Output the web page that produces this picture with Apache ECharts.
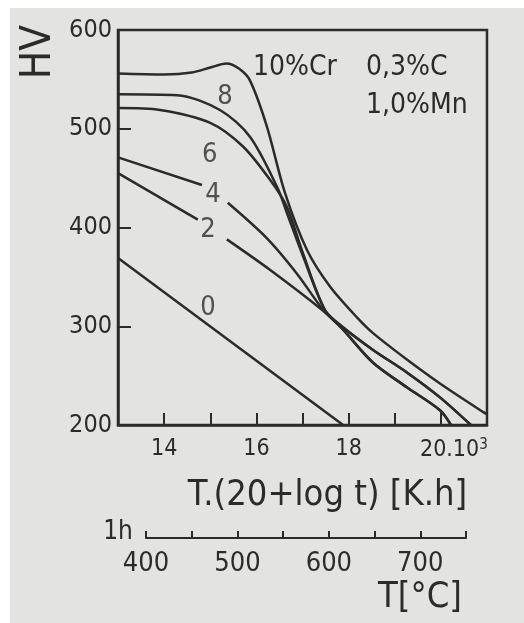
<!DOCTYPE html>
<html>
<head>
<meta charset="utf-8">
<script src="https://cdn.jsdelivr.net/npm/echarts@6/dist/echarts.min.js"></script>
<style>
  html, body { margin: 0; padding: 0; background: #fff; }
  #main { width: 524px; height: 623px; }
</style>
</head>
<body>
<div id="main"></div>
<script>
// hardness HV vs tempering parameter T.(20+log t), curves for 0..10 % Cr
var cr0 = [[13, 369], [17.88, 200]];
var cr2 = [[13, 455], [14.73, 408], [15.05, null], [15.36, 388], [16.3, 357], [17.44, 316], [17.85, 298],
           [18.53, 263], [19.27, 238], [19.98, 215], [20.22, 200]];
var cr4 = [[13, 471], [14.82, 443], [15.1, null], [15.38, 425], [16.23, 389], [16.9, 352], [17.44, 317], [17.85, 298],
           [18.53, 263], [19.27, 238], [19.98, 215], [20.22, 200]];
var cr6 = [[13, 521], [13.91, 519], [15.0, 506], [15.71, 482], [16.3, 448], [16.66, 421], [17.01, 374], [17.49, 316],
           [17.85, 300], [18.53, 276], [19.27, 253], [19.98, 228], [20.65, 200]];
var cr8 = [[13, 535], [14.28, 534], [15.21, 519], [15.86, 492], [16.45, 441], [16.66, 415], [17.01, 371], [17.49, 316],
           [17.85, 300], [18.53, 276], [19.27, 253], [19.98, 228], [20.65, 200]];
var cr10 = [[13, 556], [14, 555], [14.6, 557], [15.0, 562], [15.35, 566], [15.62, 561], [15.86, 549], [16.23, 502],
            [16.62, 435], [17.1, 377], [17.6, 340], [18.18, 309], [18.53, 293], [19.27, 266], [19.98, 242], [20.92, 213], [21, 211]];
var curveNames = ['0', '2', '4', '6', '8', '10'];
var curveLabels = [[15.32, 532, '8'], [14.99, 473, '6'], [15.06, 433, '4'], [14.95, 397, '2'], [14.95, 318, '0']];
var xLabelValues = [14, 16, 18, 20];
var tempLabelValues = [400, 500, 600, 700];

var ink = '#2b2b2b';
var font = '"DejaVu Sans Condensed", "Liberation Sans Narrow", "DejaVu Sans", sans-serif';

var chart = echarts.init(document.getElementById('main'));

function curve(name, data) {
    return {
        name: name,
        type: 'line',
        data: data,
        showSymbol: false,
        smooth: 0.3,
        connectNulls: false,
        silent: true,
        lineStyle: { color: ink, width: 2.5 },
        xAxisIndex: 0,
        yAxisIndex: 0
    };
}

var option = {
    backgroundColor: '#fff',
    animation: false,
    textStyle: { fontFamily: font, color: ink },
    graphic: [
        { type: 'rect', z: -10, shape: { x: 10, y: 8, width: 514, height: 615 }, style: { fill: '#e3e3e1' } },
        { type: 'text', x: 39, y: 52, rotation: Math.PI / 2,
          style: { text: 'HV', font: '42px ' + font, fill: ink, align: 'center', verticalAlign: 'middle' } },
        { type: 'text', x: 253, y: 68,
          style: { text: '10%Cr', font: '28px ' + font, fill: ink, align: 'left', verticalAlign: 'middle' } },
        { type: 'text', x: 366, y: 68,
          style: { text: '0,3%C', font: '28px ' + font, fill: ink, align: 'left', verticalAlign: 'middle' } },
        { type: 'text', x: 366, y: 106,
          style: { text: '1,0%Mn', font: '28px ' + font, fill: ink, align: 'left', verticalAlign: 'middle' } },
        { type: 'text', x: 118, y: 532,
          style: { text: '1h', font: '26px ' + font, fill: ink, align: 'center', verticalAlign: 'middle' } },
        { type: 'text', x: 420, y: 598,
          style: { text: 'T[°C]', font: '36px ' + font, fill: ink, align: 'center', verticalAlign: 'middle' } }
    ],
    grid: [
        { left: 118, top: 30, width: 369, height: 395, show: true, borderColor: ink, borderWidth: 2.5,
          backgroundColor: 'transparent' },
        { left: 146, top: 537, width: 320, height: 1 }
    ],
    xAxis: [
        {
            type: 'value', gridIndex: 0, min: 13, max: 21, interval: 1,
            splitLine: { show: false },
            axisLine: { lineStyle: { color: ink, width: 2.5 } },
            axisTick: { inside: true, length: 12, lineStyle: { color: ink, width: 2 } },
            axisLabel: {
                margin: 13, fontSize: 23, color: ink, fontFamily: font,
                formatter: function (v) {
                    if (xLabelValues.indexOf(v) < 0) return '';
                    return v === 20 ? '{n|20.10}{sup|3}' : String(v);
                },
                rich: {
                    n: { fontSize: 23, fontFamily: font, color: ink, padding: [0, 0, 0, 26] },
                    sup: { fontSize: 15, fontFamily: font, color: ink, verticalAlign: 'top', padding: [0, 0, 10, 0] }
                }
            },
            name: 'T.(20+log t) [K.h]',
            nameLocation: 'middle',
            nameGap: 53,
            nameTextStyle: { fontSize: 36, color: ink, fontFamily: font, padding: [0, 0, 0, 50] }
        },
        {
            type: 'value', gridIndex: 1, min: 400, max: 750, interval: 50,
            splitLine: { show: false },
            axisLine: { onZero: false, lineStyle: { color: ink, width: 2 } },
            axisTick: { inside: true, length: 7, lineStyle: { color: ink, width: 2 } },
            axisLabel: {
                margin: 12, fontSize: 27, color: ink, fontFamily: font,
                formatter: function (v) { return tempLabelValues.indexOf(v) >= 0 ? String(v) : ''; }
            }
        }
    ],
    yAxis: [
        {
            type: 'value', gridIndex: 0, min: 200, max: 600, interval: 100,
            splitLine: { show: false },
            axisLine: { lineStyle: { color: ink, width: 2.5 } },
            axisTick: { inside: true, length: 13, lineStyle: { color: ink, width: 2 } },
            axisLabel: { margin: 6, fontSize: 25, color: ink, fontFamily: font }
        },
        { type: 'value', gridIndex: 1, min: 0, max: 1, show: false }
    ],
    series: [
        curve(curveNames[0], cr0),
        curve(curveNames[1], cr2),
        curve(curveNames[2], cr4),
        curve(curveNames[3], cr6),
        curve(curveNames[4], cr8),
        curve(curveNames[5], cr10),
        {
            name: 'labels',
            type: 'scatter',
            data: curveLabels,
            symbolSize: 1,
            itemStyle: { color: 'transparent' },
            silent: true,
            label: {
                show: true, position: 'inside', fontSize: 27, color: ink, fontFamily: font,
                formatter: function (p) { return p.value[2]; }
            }
        }
    ]
};

chart.setOption(option);
window.addEventListener('resize', function () { chart.resize(); });
</script>
</body>
</html>
